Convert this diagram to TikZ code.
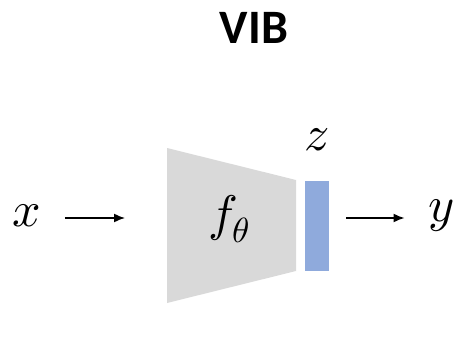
\documentclass[tikz,border=0pt]{standalone}
\usepackage{fontspec}
\usepackage{unicode-math}
\setmathfont{Latin Modern Math}
\usetikzlibrary{arrows.meta,positioning,calc}
\newfontfamily\titlefont{Carlito}
\definecolor{encgray}{HTML}{D9D9D9}
\definecolor{zblue}{HTML}{8FAADC}

\begin{document}
\begin{tikzpicture}[
  x=1pt, y=-1pt,
  font=\fontsize{50}{54}\selectfont,
  flow/.style={-{Latex[length=11pt,width=9pt]}, line width=1.5pt}
]
\useasboundingbox (0,0) rectangle (469,345);
\node[font=\titlefont\bfseries\fontsize{48}{52}\selectfont] (title) at (254,28) {VIB};
% encoder and bottleneck
\fill[encgray] (167,148) -- (296,180) -- (296,271) -- (167,303) -- cycle;
\node (enc) at (229,219) {$f_\theta$};
\fill[zblue] (305,181) rectangle (329,271);
\coordinate (zmid) at (317,226);
\node (z) at (317,140) {$z$};
\node (x) at (27,216) {$x$};
\node (y) at (441,216) {$y$};
\coordinate (xin) at (125,218);
\coordinate (yout) at (346,218);
\draw[flow] (x.east |- xin) ++(20,0) -- (xin);
\draw[flow] (yout) -- ($(y.west |- yout)+(-20,0)$);
\end{tikzpicture}
\end{document}
